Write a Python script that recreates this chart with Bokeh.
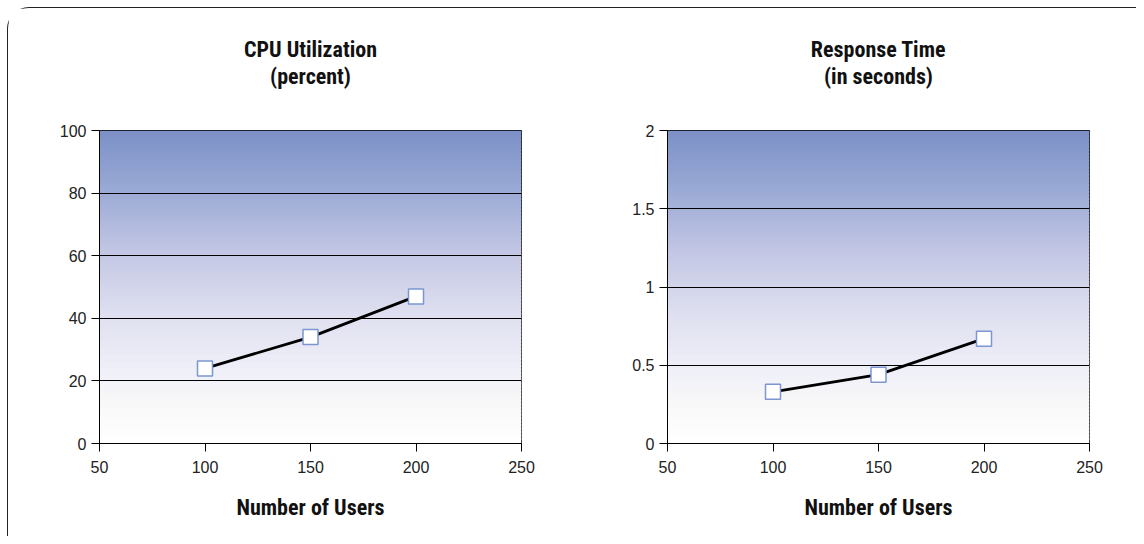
from bokeh.plotting import figure
from bokeh.layouts import row
from bokeh.models import Range1d, FixedTicker, Title
from bokeh.embed import file_html
from bokeh.resources import INLINE

# ---- data ----
users = [100, 150, 200]
cpu_util = [24, 34, 47]
resp_time = [0.33, 0.44, 0.67]

x_ticks = [50, 100, 150, 200, 250]
cpu_ticks = [0, 20, 40, 60, 80, 100]
resp_ticks = [0, 0.5, 1, 1.5, 2]
resp_labels = {0: "0", 0.5: "0.5", 1: "1", 1.5: "1.5", 2: "2"}

titles = [("CPU Utilization", "(percent)"), ("Response Time", "(in seconds)")]
x_label = "Number of Users"

# gradient stops (t from top to bottom) -> rgb
stops = [(0.0, (122, 143, 198)), (0.2, (155, 170, 213)), (0.4, (196, 199, 228)),
         (0.6, (223, 224, 240)), (0.8, (242, 242, 249)), (0.86, (247, 247, 248)),
         (1.0, (255, 255, 255))]

NARROW = "Liberation Sans Narrow, Roboto Condensed, DejaVu Sans Condensed, sans-serif"
REG = "Liberation Sans, Arial, sans-serif"


def grad_color(t):
    for (t0, c0), (t1, c1) in zip(stops[:-1], stops[1:]):
        if t0 <= t <= t1:
            f = (t - t0) / (t1 - t0)
            c = [round(a + (b - a) * f) for a, b in zip(c0, c1)]
            return "#%02x%02x%02x" % tuple(c)
    return "#ffffff"


def make_plot(title, ys, yticks, ymax, width, bl, br, overrides=None):
    p = figure(width=width, height=528, output_backend="svg", toolbar_location=None,
               x_range=Range1d(50, 250), y_range=Range1d(0, ymax),
               min_border_left=bl, min_border_right=br, min_border_top=122,
               min_border_bottom=93)
    p.title = None
    # invisible spacer panel between frame and title lines
    p.add_layout(Title(text=" ", align="center", text_font_size="22px",
                       text_font=NARROW, text_color="white", standoff=15), "above")
    p.add_layout(Title(text=title[1], align="center", text_font_size="22px",
                       text_font_style="bold", text_font=NARROW, text_color="#111111",
                       standoff=0), "above")
    p.add_layout(Title(text=title[0], align="center", text_font_size="22px",
                       text_font_style="bold", text_font=NARROW, text_color="#111111",
                       standoff=0), "above")
    # gradient background bands
    n = 90
    h = ymax / n
    lefts, rights, bottoms, tops, cols = [], [], [], [], []
    for i in range(n):
        t = (i + 0.5) / n
        tops.append(min(ymax, ymax * (1 - i / n) + 0.6 * h))
        bottoms.append(ymax * (1 - (i + 1) / n))
        lefts.append(p.x_range.start)
        rights.append(p.x_range.end)
        cols.append(grad_color(t))
    r = p.quad(left=lefts, right=rights, bottom=bottoms, top=tops,
               fill_color=cols, line_color=None)
    r.level = "image"

    p.line(users, ys, line_color="black", line_width=2.8)
    p.scatter(users, ys, marker="square", size=15, fill_color="white",
              line_color="#7b96d0", line_width=1.5)

    p.xaxis.ticker = FixedTicker(ticks=x_ticks)
    p.yaxis.ticker = FixedTicker(ticks=yticks)
    if overrides:
        p.yaxis.major_label_overrides = overrides
    for ax in (p.xaxis[0], p.yaxis[0]):
        ax.axis_line_color = "black"
        ax.major_tick_line_color = "black"
        ax.major_tick_out = 8
        ax.major_tick_in = 0
        ax.minor_tick_line_color = None
        ax.major_label_text_font = REG
        ax.major_label_text_font_size = "16px"
        ax.major_label_text_color = "#222222"
    p.yaxis.major_label_standoff = 5
    p.xaxis.major_label_standoff = 9
    p.xaxis.axis_label = x_label
    p.xaxis.axis_label_text_font = NARROW
    p.xaxis.axis_label_text_font_size = "22px"
    p.xaxis.axis_label_text_font_style = "bold"
    p.xaxis.axis_label_text_color = "#111111"
    p.xaxis.axis_label_standoff = 19

    p.xgrid.grid_line_color = None
    p.ygrid.grid_line_color = "black"
    p.ygrid.grid_line_width = 1
    p.ygrid.ticker = FixedTicker(ticks=yticks)
    p.outline_line_color = "black"
    p.outline_line_width = 1
    p.background_fill_color = "white"
    p.border_fill_color = "white"
    return p


p1 = make_plot(titles[0], cpu_util, cpu_ticks, 100, 564, 91, 51)
p2 = make_plot(titles[1], resp_time, resp_ticks, 2, 564, 95, 47, resp_labels)

layout = row(p1, p2, styles={"border-top": "1.5px solid #222",
                             "border-left": "1.5px solid #222",
                             "border-top-left-radius": "22px",
                             "margin-left": "7px", "margin-top": "7px"})

open("out.html", "w").write(file_html(layout, INLINE))
